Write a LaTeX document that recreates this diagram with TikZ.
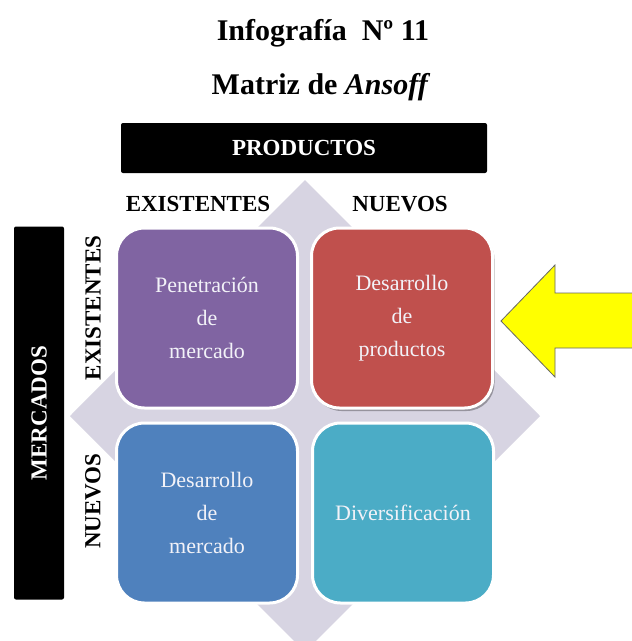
\documentclass[tikz,border=0pt]{standalone}
\usepackage{fontspec}
\setmainfont{Liberation Serif}
\usetikzlibrary{shadows}
\definecolor{cpurple}{HTML}{8064A2}
\definecolor{cred}{HTML}{C0504D}
\definecolor{cblue}{HTML}{4F81BD}
\definecolor{cteal}{HTML}{4BACC6}
\definecolor{cdiam}{HTML}{D7D4E2}
\definecolor{ctext}{HTML}{F2F2F8}
\definecolor{carrow}{HTML}{FFFF00}
\tikzset{
  quad/.style={draw=white, line width=3pt, rounded corners=28pt, minimum width=181pt, minimum height=180pt, align=center, text=ctext, font=\fontsize{22}{33}\selectfont, inner sep=0pt},
  blackbar/.style={fill=black, rounded corners=2pt, text=white, font=\fontsize{23}{27}\selectfont\bfseries, inner sep=0pt},
  axislabel/.style={font=\fontsize{23}{27}\selectfont\bfseries, text=black, inner sep=0pt},
  titletext/.style={font=\fontsize{30}{36}\selectfont\bfseries, inner sep=0pt},
}
\begin{document}
\begin{tikzpicture}[x=1pt,y=-1pt]
\useasboundingbox (0,0) rectangle (632,641);
\clip (0,0) rectangle (632,641);
\fill[white] (0,0) rectangle (632,641);
% title
\node[titletext, anchor=base] (t1) at (323,40) {Infografía\ \ Nº 11};
\node[titletext, anchor=base] (t2) at (321,94) {Matriz de \textit{Ansoff}};
% diamond
\fill[cdiam] (305,180) -- (540,416) -- (305,652) -- (70,416) -- cycle;
% top bar
\node[blackbar, minimum width=366pt, minimum height=50pt] (prod) at (304,148) {PRODUCTOS};
\node[axislabel] (ex1) at (198,204) {EXISTENTES};
\node[axislabel] (nu1) at (400,204) {NUEVOS};
% left bar
\node[blackbar, minimum width=373pt, minimum height=50pt, rotate=90] (merc) at (39,413) {MERCADOS};
\node[axislabel, rotate=90] (ex2) at (93,308) {EXISTENTES};
\node[axislabel, rotate=90] (nu2) at (93,501) {NUEVOS};
% quadrants
\node[quad, fill=cpurple] (q1) at (207,318) {Penetración\\de\\mercado};
\node[quad, fill=cred, drop shadow={shadow xshift=2pt, shadow yshift=-3pt, fill=black, opacity=0.3}] (q2) at (402,318) {Desarrollo\\de\\productos};
\node[quad, fill=cblue] (q3) at (207,513) {Desarrollo\\de\\mercado};
\node[quad, fill=cteal] (q4) at (403,513) {Diversificación};
% yellow arrow
\draw[fill=carrow, draw=black!60, line width=0.8pt, line join=miter]
  (501,321) -- (555,265) -- (555,293) -- (640,293) -- (640,348) -- (555,348) -- (555,377) -- cycle;
\end{tikzpicture}
\end{document}
